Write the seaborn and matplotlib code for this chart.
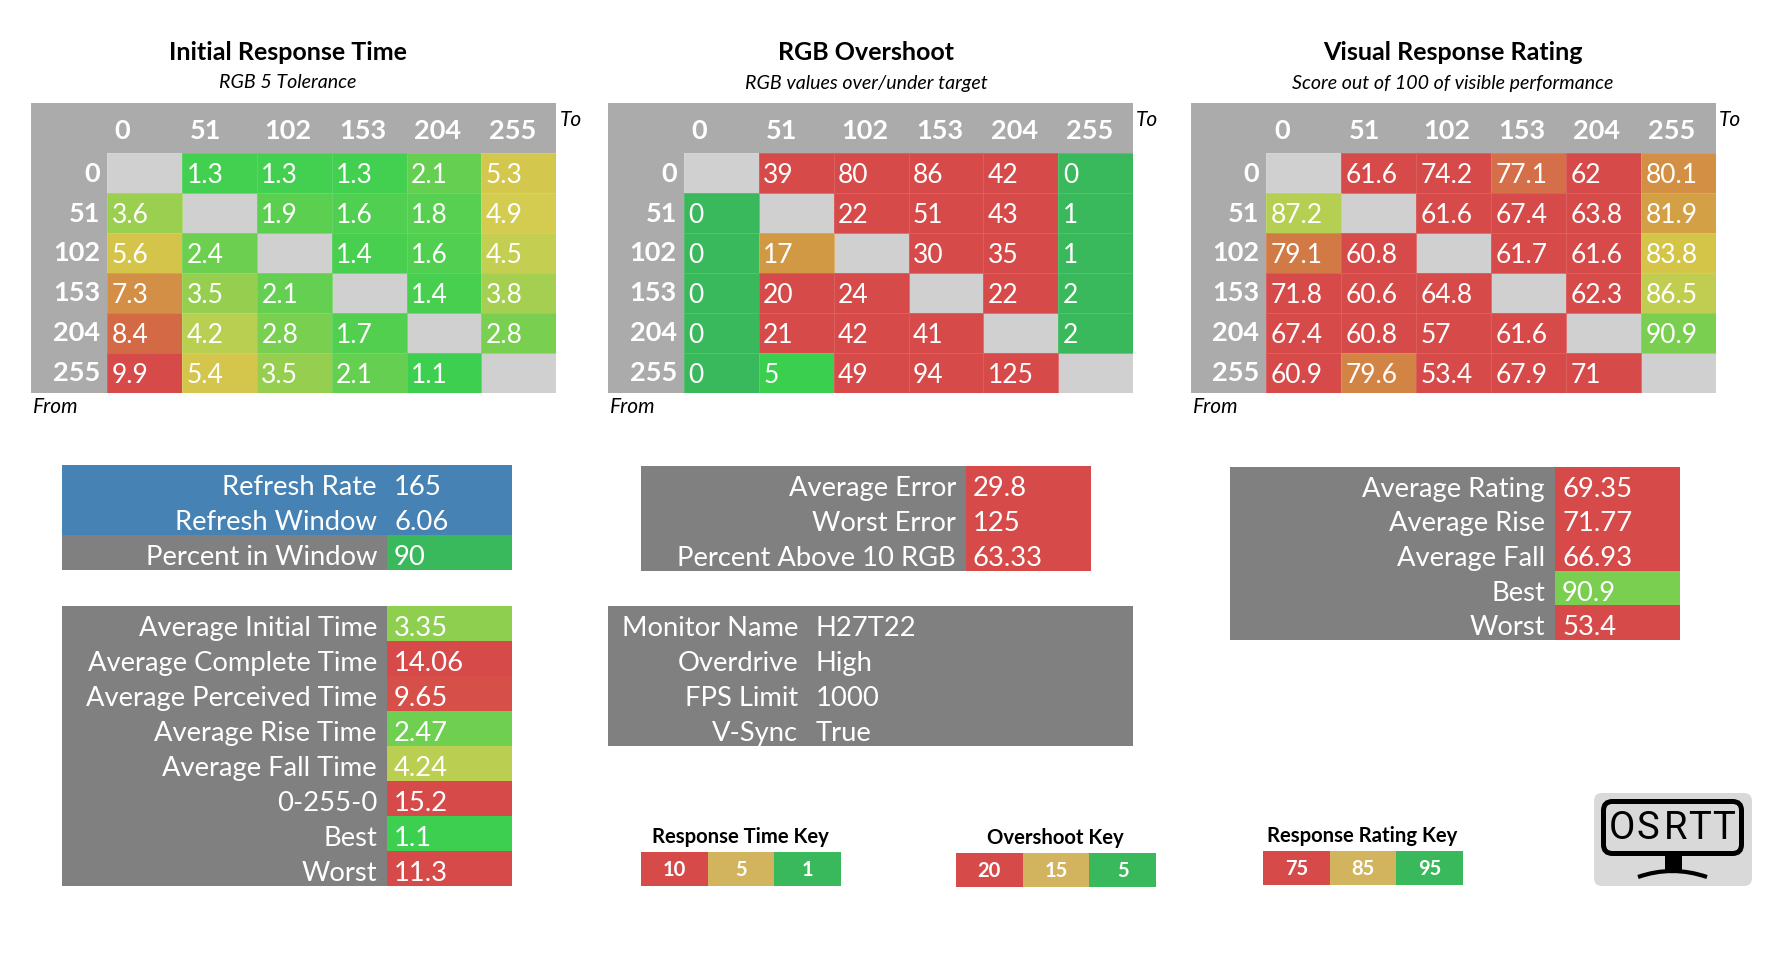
import matplotlib
matplotlib.use("Agg")
import matplotlib.pyplot as plt
import seaborn as sns
import numpy as np
from matplotlib.colors import LinearSegmentedColormap, ListedColormap
from matplotlib.patches import FancyBboxPatch, Rectangle, PathPatch
from matplotlib.path import Path

W, H = 1784, 962
nan = np.nan

levels = [0, 51, 102, 153, 204, 255]

initial_time = [
    [nan, 1.3, 1.3, 1.3, 2.1, 5.3],
    [3.6, nan, 1.9, 1.6, 1.8, 4.9],
    [5.6, 2.4, nan, 1.4, 1.6, 4.5],
    [7.3, 3.5, 2.1, nan, 1.4, 3.8],
    [8.4, 4.2, 2.8, 1.7, nan, 2.8],
    [9.9, 5.4, 3.5, 2.1, 1.1, nan],
]
overshoot = [
    [nan, 39, 80, 86, 42, 0],
    [0, nan, 22, 51, 43, 1],
    [0, 17, nan, 30, 35, 1],
    [0, 20, 24, nan, 22, 2],
    [0, 21, 42, 41, nan, 2],
    [0, 5, 49, 94, 125, nan],
]
rating = [
    [nan, 61.6, 74.2, 77.1, 62, 80.1],
    [87.2, nan, 61.6, 67.4, 63.8, 81.9],
    [79.1, 60.8, nan, 61.7, 61.6, 83.8],
    [71.8, 60.6, 64.8, nan, 62.3, 86.5],
    [67.4, 60.8, 57, 61.6, nan, 90.9],
    [60.9, 79.6, 53.4, 67.9, 71, nan],
]

refresh_labels = ["Refresh Rate", "Refresh Window", "Percent in Window"]
refresh_values = [165, 6.06, 90]
time_labels = ["Average Initial Time", "Average Complete Time", "Average Perceived Time",
               "Average Rise Time", "Average Fall Time", "0-255-0", "Best", "Worst"]
time_values = [3.35, 14.06, 9.65, 2.47, 4.24, 15.2, 1.1, 11.3]
error_labels = ["Average Error", "Worst Error", "Percent Above 10 RGB"]
error_values = [29.8, 125, 63.33]
rating_labels = ["Average Rating", "Average Rise", "Average Fall", "Best", "Worst"]
rating_values = [69.35, 71.77, 66.93, 90.9, 53.4]
monitor_labels = ["Monitor Name", "Overdrive", "FPS Limit", "V-Sync"]
monitor_values = ["H27T22", "High", "1000", "True"]

time_key = [10, 5, 1]
overshoot_key = [20, 15, 5]
rating_key = [75, 85, 95]

RED = "#D64A4A"
GOLD = "#D2B45E"
GREEN = "#3AB85C"
BLUE = "#4682B4"
HEADER = "#ABABAB"
PANEL = "#808080"
EMPTY = "#D0D0D0"


def make_cmap(nodes):
    """Colour scale through (value, colour) stops, returns cmap, vmin, vmax"""
    lo, hi = nodes[0][0], nodes[-1][0]
    stops = [((v - lo) / (hi - lo), c) for v, c in nodes]
    return LinearSegmentedColormap.from_list("scale", stops), lo, hi


time_scale = make_cmap([(1.0, "#39CF50"), (1.3, "#44CF50"), (2.1, "#64CF50"), (2.8, "#78CF50"),
                        (3.5, "#96CF50"), (4.2, "#B8CF52"), (4.9, "#D4CC50"), (5.6, "#D4C44A"),
                        (7.3, "#D29045"), (8.4, "#D46A45"), (9.9, "#D64C4A"), (10, RED)])
overshoot_scale = make_cmap([(0, GREEN), (2, GREEN), (5, "#3BCF50"), (15, "#D4C84A"),
                             (17, "#D29A45"), (20, RED)])
rating_scale = make_cmap([(75, RED), (77.1, "#D4704A"), (79.1, "#D27A45"), (80.1, "#D39045"),
                          (81.9, "#D3A045"), (83.8, "#D4C548"), (86.5, "#C2CD50"),
                          (87.2, "#B6CF52"), (90.9, "#7ACF50"), (95, GREEN)])

sns.set_theme(style="white")
plt.rcParams["font.family"] = ["Lato", "DejaVu Sans"]

fig = plt.figure(figsize=(W / 100, H / 100), dpi=100, facecolor="white")

# full figure layer in pixel coordinates for panels and plain text
bg = fig.add_axes([0, 0, 1, 1], zorder=0)
bg.set_xlim(0, W)
bg.set_ylim(H, 0)
bg.axis("off")


def px_axes(left, top, right, bottom):
    return fig.add_axes([left / W, 1 - bottom / H, (right - left) / W, (bottom - top) / H], zorder=1)


def panel(left, top, right, bottom, color):
    bg.add_patch(Rectangle((left, top), right - left, bottom - top, color=color, lw=0))


def draw_matrix(data, scale, left, cell_left, right, title, subtitle, center):
    top, header, bottom = 103.5, 153.5, 393.5
    panel(left, top, right, bottom, HEADER)
    ax = px_axes(cell_left, header, right, bottom)
    cmap, lo, hi = scale
    sns.heatmap(np.array(data, dtype=float), ax=ax, cmap=cmap, vmin=lo, vmax=hi, cbar=False,
                annot=True, fmt="g", annot_kws={"color": "white", "fontsize": 19},
                linewidths=0.6, linecolor=(1, 1, 1, 0.12))
    ax.set_facecolor(EMPTY)
    for t in ax.texts:
        t.set_ha("left")
        t.set_x(t.get_position()[0] - 0.5 + 0.06)
        t.set_y(t.get_position()[1] + 0.05)

    ax.xaxis.tick_top()
    ax.set_xticks(np.arange(len(levels)) + 0.10)
    ax.set_xticklabels(levels, ha="left", color="white", fontsize=19.5, fontweight="bold")
    ax.set_yticks(np.arange(len(levels)) + 0.5)
    ax.set_yticklabels(levels, rotation=0, color="white", fontsize=19.5, fontweight="bold")
    ax.tick_params(length=0, pad=5, axis="y")
    ax.tick_params(length=0, pad=7.5, axis="x")

    bg.text(center, 53, title, ha="center", va="center", fontsize=18, fontweight="bold", color="black")
    bg.text(center, 83, subtitle, ha="center", va="center", fontsize=14.1, style="italic", color="black")
    bg.text(right + 3, 120, "To", ha="left", va="center", fontsize=15, style="italic", color="black")
    bg.text(left + 2, 407, "From", ha="left", va="center", fontsize=15, style="italic", color="black")


def stat_table(labels, values, scale, left, split, right, top, bottom, shade=None):
    n = len(labels)
    panel(left, top, split, bottom, PANEL)
    ax = px_axes(split, top, right, bottom)
    cmap, lo, hi = scale
    colour_data = values if shade is None else shade
    sns.heatmap(np.array(colour_data, dtype=float).reshape(n, 1), ax=ax, cmap=cmap, vmin=lo, vmax=hi,
                cbar=False, annot=np.array(values, dtype=float).reshape(n, 1), fmt="g",
                annot_kws={"color": "white", "fontsize": 19.7},
                xticklabels=False, yticklabels=False)
    for t in ax.texts:
        t.set_ha("left")
        t.set_x(7 / (right - split))
        t.set_y(t.get_position()[1] + 4 / ((bottom - top) / n))
    row = (bottom - top) / n
    for i, label in enumerate(labels):
        bg.text(split - 10, top + row * (i + 0.5) + 4, label, ha="right", va="center",
                fontsize=19.7, color="white")


def key_strip(values, title, left, right, top, bottom, center):
    ax = px_axes(left, top, right, bottom)
    cmap = ListedColormap([RED, GOLD, GREEN])
    sns.heatmap([[0, 1, 2]], ax=ax, cmap=cmap, vmin=0, vmax=2, cbar=False,
                annot=np.array([values]), fmt="g",
                annot_kws={"color": "white", "fontsize": 14.5, "fontweight": "bold"},
                xticklabels=False, yticklabels=False)
    bg.text(center, top - 16, title, ha="center", va="center", fontsize=14.6, fontweight="bold", color="black")


def draw_logo():
    bg.add_patch(FancyBboxPatch((1594, 794), 158, 93, boxstyle="round,pad=0,rounding_size=8",
                                fc="#D9D9D9", ec="none", lw=0))
    bg.add_patch(FancyBboxPatch((1603.5, 802.5), 138, 52, boxstyle="round,pad=0,rounding_size=9",
                                fc="none", ec="black", lw=3.6))
    bg.add_patch(Rectangle((1665, 855), 17, 19, color="black", lw=0))
    bg.add_patch(PathPatch(Path([(1638, 878), (1672, 866), (1707, 878)],
                                [Path.MOVETO, Path.CURVE3, Path.CURVE3]),
                           fc="none", ec="black", lw=3, capstyle="butt"))
    for letter, x in zip("OSRTT", [1622, 1648, 1676, 1700, 1724]):
        bg.text(x, 829, letter, ha="center", va="center", fontsize=27.5, color="black",
                family=["Roboto", "DejaVu Sans"])


draw_matrix(initial_time, time_scale, 30.7, 107, 556.4, "Initial Response Time", "RGB 5 Tolerance", 288)
draw_matrix(overshoot, overshoot_scale, 607.6, 683.8, 1133.3, "RGB Overshoot", "RGB values over/under target", 866)
draw_matrix(rating, rating_scale, 1191.3, 1266.4, 1715.8, "Visual Response Rating",
            "Score out of 100 of visible performance", 1453)

# refresh table has fixed colours so it gets its own two colour scale
refresh_scale = (ListedColormap([BLUE, GREEN]), 0, 1)
stat_table(refresh_labels, refresh_values, refresh_scale, 62, 387, 512, 466, 571, shade=[0, 0, 1])
panel(62, 466, 387, 536, BLUE)
stat_table(time_labels, time_values, time_scale, 62, 387, 512, 607, 887)
stat_table(error_labels, error_values, overshoot_scale, 641, 966, 1091, 467, 572)
stat_table(rating_labels, rating_values, rating_scale, 1230, 1555, 1680, 468, 641)

panel(607.6, 607, 1133, 747, PANEL)
for i, (label, value) in enumerate(zip(monitor_labels, monitor_values)):
    y = 607 + 35 * (i + 0.5) + 4
    bg.text(798, y, label, ha="right", va="center", fontsize=19.7, color="white")
    bg.text(816, y, value, ha="left", va="center", fontsize=19.7, color="white")

key_strip(time_key, "Response Time Key", 641, 841, 853, 887, 740)
key_strip(overshoot_key, "Overshoot Key", 956, 1156, 854, 888, 1055)
key_strip(rating_key, "Response Rating Key", 1263, 1463, 852, 886, 1362)

draw_logo()

fig.savefig("out.png", dpi=100, facecolor="white")
